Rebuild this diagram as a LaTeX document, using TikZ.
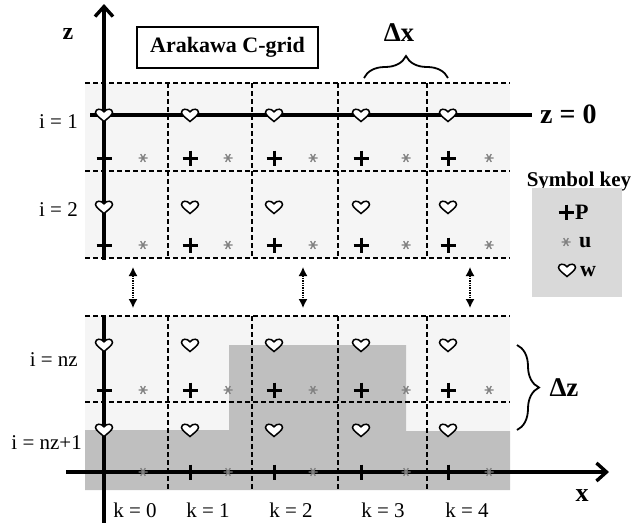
\documentclass[tikz,border=0pt]{standalone}
\usepackage{fontspec}
\setmainfont{Liberation Serif}
\usetikzlibrary{arrows.meta,decorations.pathreplacing}

\begin{document}
\begin{tikzpicture}[x=1pt, y=-1pt,
    % 单元格底色与地形
    cellbg/.style={fill=gray!8},
    terrain/.style={fill=gray!50},
    % 网格虚线
    gridline/.style={line width=1.2pt, dash pattern=on 5pt off 3pt},
    % 坐标轴
    axisline/.style={line width=3.4pt},
    axis/.style={axisline, -{Straight Barb[length=10pt,width=18pt]}},
    % 面板之间的虚线双箭头
    linkarrow/.style={{Latex[length=9pt,width=9pt]}-{Latex[length=9pt,width=9pt]},
        line width=1.4pt, densely dotted},
    brace/.style={decorate, decoration={brace, amplitude=22pt}, line width=1.8pt},
    lbl/.style={inner sep=2pt, font=\fontsize{21}{24}\selectfont},
    boldlbl/.style={inner sep=2pt, font=\fontsize{22}{26}\selectfont\bfseries},
    % 网格上的符号: w, P, u
    heart/.pic={\draw[fill=white, line width=1.5pt] (0,6.5) .. controls (-3.5,3.5) and (-8.5,0) .. (-8.5,-2.5)
        .. controls (-8.5,-6.5) and (-2.8,-7) .. (0,-3.2) .. controls (2.8,-7) and (8.5,-6.5) .. (8.5,-2.5)
        .. controls (8.5,0) and (3.5,3.5) .. cycle;},
    pmark/.pic={\draw[line width=3pt] (-7.5,0) -- (7.5,0) (0,-7.5) -- (0,7.5);},
    umark/.pic={\draw[gray, line width=1.3pt] (-4.5,0) -- (4.5,0) (-2.3,-3.9) -- (2.3,3.9) (-2.3,3.9) -- (2.3,-3.9);}
]
    \useasboundingbox (0,0) rectangle (632,523);

    % ================== 上面板 (i = 1, 2) ==================
    \fill[cellbg] (85,83) rectangle (510,258);
    \foreach \gy in {83,171,258} \draw[gridline] (85,\gy) -- (510,\gy);
    \foreach \gx in {168,252,338,427} \draw[gridline] (\gx,83) -- (\gx,258);

    % ================== 下面板 (i = nz, nz+1) ==================
    \fill[cellbg] (85,316) rectangle (510,490);
    \fill[terrain] (85,430) -- (229,430) -- (229,345) -- (406,345) -- (406,431)
        -- (510,431) -- (510,490) -- (85,490) -- cycle;
    \foreach \gy in {316,402} \draw[gridline] (85,\gy) -- (510,\gy);
    \foreach \gx in {168,252,338,427} \draw[gridline] (\gx,316) -- (\gx,490);

    % ================== 坐标轴 ==================
    \coordinate (z_base) at (104,260);
    \coordinate (z_top) at (104,4);
    \draw[axis] (z_base) -- (z_top);
    \coordinate (z_low_top) at (104,316);
    \coordinate (z_low_bot) at (104,523);
    \draw[axisline] (z_low_top) -- (z_low_bot);
    \coordinate (x_start) at (66,472);
    \coordinate (x_end) at (609,472);
    \draw[axis] (x_start) -- (x_end);

    \node[boldlbl, font=\fontsize{24}{28}\selectfont\bfseries] (lbl_z) at (68,34) {z};
    \node[boldlbl, font=\fontsize{26}{30}\selectfont\bfseries] (lbl_x) at (582,496) {x};

    % z = 0 线
    \node[anchor=base west, inner sep=8pt, font=\fontsize{28}{32}\selectfont\bfseries]
        (lbl_z0) at (532,123) {z = 0};
    \coordinate (z0_start) at (90,115);
    \draw[axisline] (z0_start) -- (z0_start -| lbl_z0.west);

    % 面板之间的双箭头
    \foreach \ax [count=\n] in {133,303,470} {
        \coordinate (gap_top_\n) at (\ax,267);
        \coordinate (gap_bot_\n) at (\ax,308);
        \draw[linkarrow] (gap_top_\n) -- (gap_bot_\n);
    }

    % ================== 网格符号 ==================
    \foreach \hx/\sx in {104/143,190/228,274/313,361/406,448/489} {
        \foreach \wy in {115,207,345,430} \pic at (\hx,\wy) {heart};
        \foreach \py in {158,245,390,472} {
            \pic at (\hx,\py) {pmark};
            \pic at (\sx,\py) {umark};
        }
    }

    % ================== 标签 ==================
    \node[lbl, anchor=east] (lbl_i1) at (80,122) {i = 1};
    \node[lbl, anchor=east] (lbl_i2) at (80,210) {i = 2};
    \node[lbl, anchor=east] (lbl_inz) at (80,360) {i = nz};
    \node[lbl, anchor=east] (lbl_inz1) at (84,443) {i = nz+1};

    \node[lbl] (lbl_k0) at (135,510) {k = 0};
    \node[lbl] (lbl_k1) at (208,510) {k = 1};
    \node[lbl] (lbl_k2) at (291,510) {k = 2};
    \node[lbl] (lbl_k3) at (383,510) {k = 3};
    \node[lbl] (lbl_k4) at (467,510) {k = 4};

    \node[boldlbl, draw, fill=white, line width=1.2pt, minimum width=181pt, minimum height=41pt]
        (title) at (227.5,47.5) {Arakawa C-grid};

    % Δx 与 Δz
    \coordinate (dx_left) at (364,78);
    \coordinate (dx_right) at (448,78);
    \draw[brace] (dx_left) -- (dx_right);
    \node[boldlbl, font=\fontsize{27}{30}\selectfont\bfseries] (lbl_dx) at (399,33) {Δx};
    \coordinate (dz_top) at (517,345);
    \coordinate (dz_bot) at (517,430);
    \draw[brace] (dz_top) -- (dz_bot);
    \node[boldlbl, font=\fontsize{27}{30}\selectfont\bfseries] (lbl_dz) at (564,388) {Δz};

    % ================== Symbol key ==================
    \node[inner sep=0pt, font=\fontsize{21}{24}\selectfont\bfseries] (key_title) at (579,181) {Symbol key};
    \node[fill=gray!30, minimum width=90pt, minimum height=109pt] (key_box) at (577,242.5) {};
    \pic at (566,212) {pmark};
    \node[boldlbl, anchor=west] (key_p) at (573,212) {P};
    \pic at (566,242) {umark};
    \node[boldlbl, anchor=west] (key_u) at (577,243) {u};
    \pic at (567,270) {heart};
    \node[boldlbl, anchor=west] (key_w) at (578,272) {w};
\end{tikzpicture}
\end{document}
